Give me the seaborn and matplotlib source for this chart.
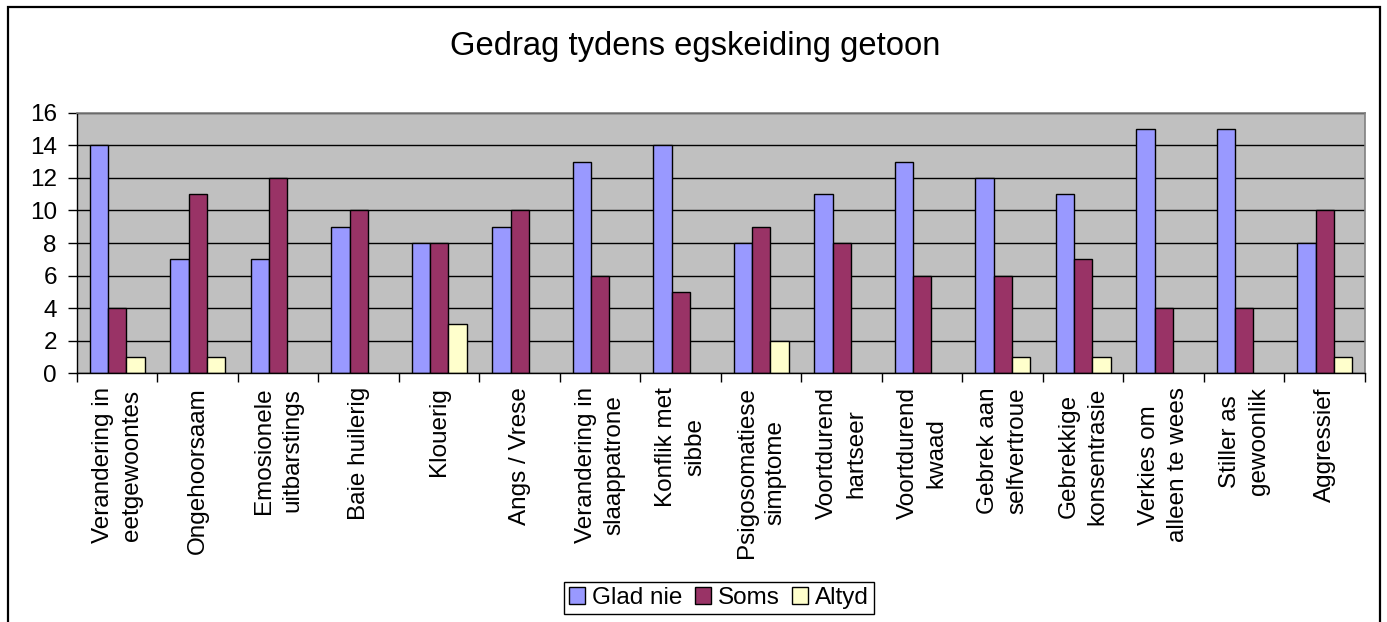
import pandas as pd
import matplotlib
matplotlib.use('Agg')
import matplotlib.pyplot as plt
import seaborn as sns
from matplotlib.patches import Rectangle
from matplotlib.ticker import MultipleLocator, FixedLocator

# Chart data
categories = [
    'Verandering in\neetgewoontes', 'Ongehoorsaam', 'Emosionele\nuitbarstings',
    'Baie huilerig', 'Klouerig', 'Angs / Vrese', 'Verandering in\nslaappatrone',
    'Konflik met\nsibbe', 'Psigosomatiese\nsimptome', 'Voortdurend\nhartseer',
    'Voortdurend\nkwaad', 'Gebrek aan\nselfvertroue', 'Gebrekkige\nkonsentrasie',
    'Verkies om\nalleen te wees', 'Stiller as\ngewoonlik', 'Aggressief',
]
series_names = ['Glad nie', 'Soms', 'Altyd']
glad_nie = [14, 7, 7, 9, 8, 9, 13, 14, 8, 11, 13, 12, 11, 15, 15, 8]
soms = [4, 11, 12, 10, 8, 10, 6, 5, 9, 8, 6, 6, 7, 4, 4, 10]
altyd = [1, 1, 0, 0, 3, 0, 0, 0, 2, 0, 0, 1, 1, 0, 0, 1]
colors = ['#9999FF', '#993366', '#FFFFCC']

# Long-form table for seaborn
df = pd.DataFrame({
    'kategorie': categories * 3,
    'reeks': [s for s in series_names for _ in categories],
    'waarde': glad_nie + soms + altyd,
})

sns.set_style('white')
plt.rcParams['font.family'] = ['Liberation Sans', 'DejaVu Sans']
plt.rcParams['text.color'] = 'black'
plt.rcParams['xtick.color'] = 'black'
plt.rcParams['ytick.color'] = 'black'

fig = plt.figure(figsize=(13.87, 6.22), dpi=100)
ax = fig.add_axes([0.0555, 0.3998, 0.9286, 0.419])
ax.set_facecolor('#C0C0C0')

sns.barplot(data=df, x='kategorie', y='waarde', hue='reeks', order=categories,
            hue_order=series_names, palette=colors, width=0.68, gap=0,
            edgecolor='black', linewidth=1, saturation=1, legend=False, ax=ax)

# no outline for empty bars
for bar in ax.patches:
    if bar.get_height() == 0:
        bar.set_linewidth(0)

ax.set_xlim(-0.5, len(categories) - 0.5)
ax.set_ylim(0, 16)
ax.yaxis.set_major_locator(MultipleLocator(2))
ax.set_axisbelow(True)
ax.grid(axis='y', color='black', linewidth=1)
ax.grid(axis='x', visible=False)
ax.set_xlabel('')
ax.set_ylabel('')

for side in ['top', 'right']:
    ax.spines[side].set_color('#808080')
    ax.spines[side].set_linewidth(1.2)
for side in ['left', 'bottom']:
    ax.spines[side].set_color('black')
    ax.spines[side].set_linewidth(1)

# ticks: labels at centres, tick marks at category boundaries
ax.xaxis.set_minor_locator(FixedLocator([i - 0.5 for i in range(len(categories) + 1)]))
ax.tick_params(axis='x', which='major', length=0, pad=10, labelsize=17.5)
ax.tick_params(axis='x', which='minor', length=6.5, width=1, color='black', direction='out', bottom=True)
ax.tick_params(axis='y', which='major', length=6.5, width=1, color='black', direction='out',
               left=True, pad=8, labelsize=17.5)
for lbl in ax.get_xticklabels():
    lbl.set_rotation(90)
    lbl.set_multialignment('center')
    lbl.set_linespacing(1.4)
    lbl.set_verticalalignment('top')
    lbl.set_horizontalalignment('center')

fig.text(0.501, 0.925, 'Gedrag tydens egskeiding getoon', ha='center', va='center', fontsize=23.6)

handles = [Rectangle((0, 0), 1, 1, facecolor=c, edgecolor='black', linewidth=1) for c in colors]
fig.legend(handles, series_names, loc='center', bbox_to_anchor=(0.5185, 0.0386), ncol=3,
           fontsize=17.5, frameon=True, fancybox=False, edgecolor='black', framealpha=1,
           handlelength=0.65, handleheight=0.65, handletextpad=0.3, columnspacing=0.5,
           borderpad=0.2, borderaxespad=0)

# outer chart border
fig.patches.append(Rectangle((8 / 1387, -0.02), (1380 - 8) / 1387, 1.02 - 7 / 622,
                             transform=fig.transFigure, fill=False, edgecolor='black',
                             linewidth=1.6))

fig.savefig('out.png', dpi=100)
